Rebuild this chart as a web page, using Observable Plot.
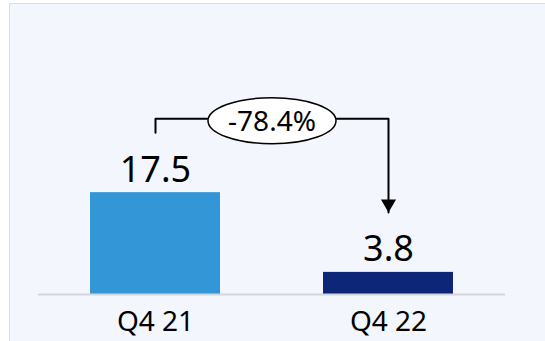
<!DOCTYPE html>
<html><head><meta charset="utf-8">
<script src="https://cdn.jsdelivr.net/npm/d3@7"></script>
<script src="https://cdn.jsdelivr.net/npm/@observablehq/plot@0.6"></script>
<style>
html,body{margin:0;padding:0;background:#fff;width:545px;height:341px;overflow:hidden}
#panel{position:absolute;left:9px;top:3px;width:600px;height:400px;background:#f3f6fc;border-left:1px solid #d9dde4;border-top:1px solid #d9dde4;}
#chart{position:absolute;left:0;top:0}
</style></head><body><div id="panel"></div><div id="chart"></div>
<script>
const categories = ["Q4 21", "Q4 22"];
const values = [17.5, 3.8];
const valueLabels = ["17.5", "3.8"];
const changeLabel = "-78.4%";
const barColors = ["#3396d6", "#0d2677"];

const data = categories.map((c, i) => ({cat: c, value: values[i], label: valueLabels[i]}));

// annotation geometry, derived from the values (in data units)
const gap = 10.3, lift = 12.7;
const level = values[0] + lift;
const bracket = [
  {x: categories[0], y: values[0] + gap},
  {x: categories[0], y: level},
  {x: categories[1], y: level},
  {x: categories[1], y: values[1] + gap}
];

const ellipse = {
  draw(ctx) {
    const rx = 64, ry = 23, k = 0.5523;
    ctx.moveTo(rx, 0);
    ctx.bezierCurveTo(rx, ry * k, rx * k, ry, 0, ry);
    ctx.bezierCurveTo(-rx * k, ry, -rx, ry * k, -rx, 0);
    ctx.bezierCurveTo(-rx, -ry * k, -rx * k, -ry, 0, -ry);
    ctx.bezierCurveTo(rx * k, -ry, rx, -ry * k, rx, 0);
    ctx.closePath();
  }
};

const chart = Plot.plot({
  width: 545,
  height: 341,
  marginLeft: 38,
  marginRight: 40,
  marginTop: 3,
  marginBottom: 47,
  style: {fontFamily: "'Noto Sans', sans-serif", background: "transparent", color: "#000", overflow: "visible"},
  x: {domain: categories, paddingInner: 0.44, paddingOuter: 0.22, axis: null},
  y: {domain: [0, 50], axis: null},
  color: {domain: categories, range: barColors},
  marks: [
    Plot.barY(data, {x: "cat", y: "value", fill: "cat"}),
    Plot.ruleY([0], {stroke: "#d3d6db", strokeWidth: 2}),
    Plot.text(data, {x: "cat", y: "value", text: "label", lineAnchor: "bottom", dy: -11, fontSize: 36, fill: "#000"}),
    Plot.axisX({tickSize: 0, tickPadding: 17, fontSize: 28, fill: "#000", label: null}),
    Plot.line(bracket, {x: "x", y: "y", stroke: "#000", strokeWidth: 2, curve: "linear"}),
    Plot.dot([{x: categories[1], y: values[1] + gap}], {x: "x", y: "y", symbol: "triangle", rotate: 180, r: 5.6, fill: "#000", stroke: "none", dy: -8.7}),
    Plot.dot([level], {y: d => d, symbol: ellipse, fill: "#fff", stroke: "#000", strokeWidth: 1.5, frameAnchor: "middle", dy: 2}),
    Plot.text([changeLabel], {y: () => level, text: d => d, frameAnchor: "middle", lineAnchor: "middle", dy: 3, fontSize: 28, fill: "#000"})
  ]
});
document.getElementById("chart").appendChild(chart);
</script>
</body></html>
